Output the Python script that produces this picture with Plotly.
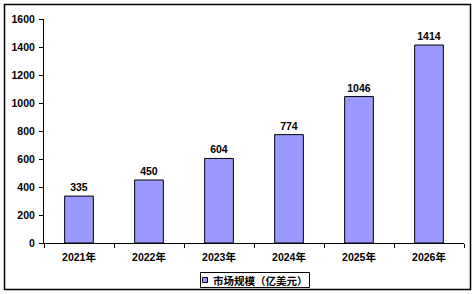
import plotly.graph_objects as go

categories = ["2021年", "2022年", "2023年", "2024年", "2025年", "2026年"]
values = [335, 450, 604, 774, 1046, 1414]
series_name = "市场规模（亿美元）"
y_ticks = [0, 200, 400, 600, 800, 1000, 1200, 1400, 1600]

FONT = "Liberation Sans, Arial, Noto Sans CJK SC"
BAR_COLOR = "#9999FF"

W, H = 475, 294
ml, mr, mt, mb = 44, 11, 19, 51
pw, ph = W - ml - mr, H - mt - mb


def px_x(x):
    return (x - ml) / pw


def px_y(y):
    return (H - mb - y) / ph


fig = go.Figure()
fig.add_trace(go.Bar(
    x=categories, y=values, name=series_name,
    marker=dict(color=BAR_COLOR, line=dict(color="black", width=1)),
    text=[str(v) for v in values], textposition="outside",
    textfont=dict(family=FONT, size=10.5, color="black", weight="bold"),
    cliponaxis=False, showlegend=False,
))

shapes = [
    # outer chart border
    dict(type="rect", xref="paper", yref="paper",
         x0=px_x(4.5), x1=px_x(470.5), y0=px_y(289.5), y1=px_y(4.5),
         line=dict(color="black", width=1.5), fillcolor="rgba(0,0,0,0)",
         layer="below"),
    # legend box
    dict(type="rect", xref="paper", yref="paper",
         x0=px_x(200.5), x1=px_x(309.5), y0=px_y(287.5), y1=px_y(272.5),
         line=dict(color="black", width=1), fillcolor="white"),
    # legend marker
    dict(type="rect", xref="paper", yref="paper",
         x0=px_x(202.5), x1=px_x(207.5), y0=px_y(282.5), y1=px_y(277.5),
         line=dict(color="black", width=1), fillcolor=BAR_COLOR),
]

annotations = [
    dict(text=series_name, xref="paper", yref="paper",
         x=px_x(211), y=px_y(280.5), xanchor="left", yanchor="middle",
         showarrow=False,
         font=dict(family=FONT, size=10.5, color="black", weight="bold")),
]

fig.update_layout(
    width=W, height=H,
    margin=dict(l=ml, r=mr, t=mt, b=mb),
    paper_bgcolor="white", plot_bgcolor="white",
    bargap=0.59,
    font=dict(family=FONT, size=10.5, color="black", weight="bold"),
    showlegend=False,
    xaxis=dict(
        showline=True, linecolor="black", linewidth=1,
        ticks="outside", ticklen=4, tickcolor="black",
        tickson="boundaries", showgrid=False,
        ticklabelstandoff=4,
        tickfont=dict(family=FONT, size=10.5, color="black", weight="bold"),
    ),
    yaxis=dict(
        range=[0, 1600], tickvals=y_ticks, ticktext=[str(t) for t in y_ticks],
        showline=True, linecolor="black", linewidth=1,
        ticks="outside", ticklen=4, tickcolor="black",
        showgrid=False, zeroline=False,
        ticklabelstandoff=2,
        tickfont=dict(family=FONT, size=10.5, color="black", weight="bold"),
    ),
    shapes=shapes,
    annotations=annotations,
)

fig.write_html("out.html")
